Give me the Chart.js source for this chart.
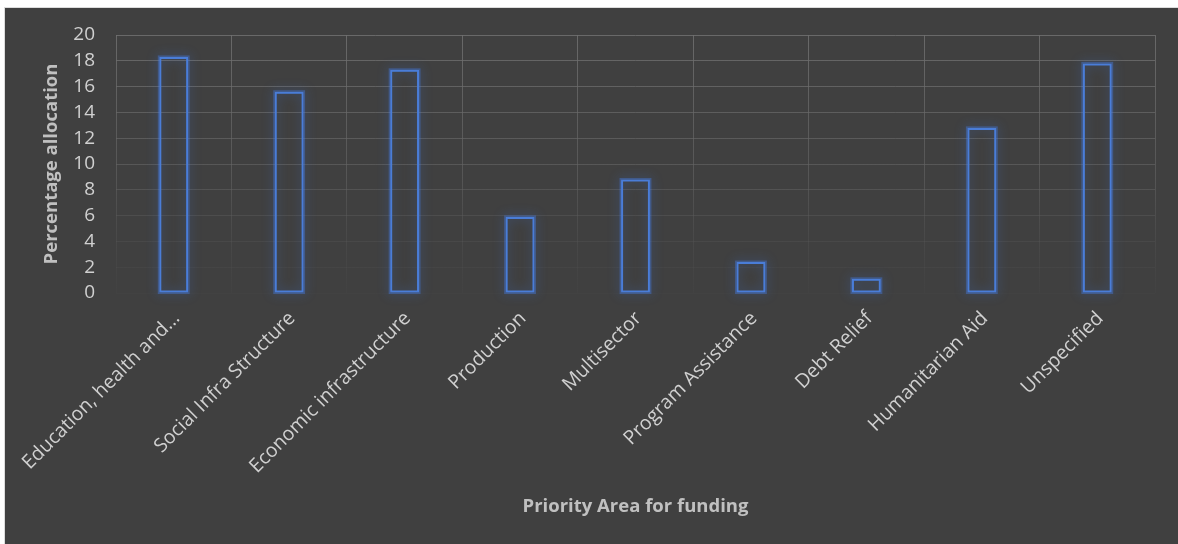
<!DOCTYPE html>
<html>
<head>
<meta charset="utf-8">
<script src="https://cdn.jsdelivr.net/npm/chart.js@4"></script>
<style>
  html, body { margin: 0; padding: 0; background: #ffffff; }
  #wrap { position: absolute; left: 0; top: 0; width: 1178px; height: 544px; }
</style>
</head>
<body>
<div id="wrap"><canvas id="chart" width="1178" height="544"></canvas></div>
<script>
// Share of funding by priority area (%)
const categories = [
  'Education, health and...',
  'Social Infra Structure',
  'Economic infrastructure',
  'Production',
  'Multisector',
  'Program Assistance',
  'Debt Relief',
  'Humanitarian Aid',
  'Unspecified'
];
const allocation = [18.3, 15.6, 17.3, 5.9, 8.8, 2.4, 1.1, 12.8, 17.8];
const yTicks = [0, 2, 4, 6, 8, 10, 12, 14, 16, 18, 20];

const FONT = '"Open Sans", "Noto Sans", sans-serif';
const BAR_BLUE = '#4a7dd8';

// Dark panel behind the chart, inset from the top and left edges
const panel = {
  id: 'panel',
  beforeDraw(chart) {
    const ctx = chart.ctx;
    ctx.save();
    ctx.fillStyle = '#ffffff';
    ctx.fillRect(0, 0, chart.width, chart.height);
    ctx.fillStyle = '#dcdcdc';
    ctx.fillRect(4, 7, chart.width - 4, chart.height - 7);
    ctx.fillStyle = '#404040';
    ctx.fillRect(5, 8, chart.width - 5, chart.height - 8);
    ctx.restore();
  }
};

// Soft blue glow around each bar outline
const glow = {
  id: 'glow',
  beforeDatasetsDraw(chart) {
    const ctx = chart.ctx;
    const meta = chart.getDatasetMeta(0);
    ctx.save();
    ctx.strokeStyle = 'rgba(70,125,230,0.4)';
    ctx.lineWidth = 3;
    ctx.shadowColor = 'rgba(60,120,235,0.95)';
    ctx.shadowBlur = 11;
    meta.data.forEach(bar => {
      const { x, y, base, width } = bar.getProps(['x', 'y', 'base', 'width'], true);
      ctx.strokeRect(x - width / 2, Math.min(y, base), width, Math.abs(base - y));
    });
    ctx.restore();
  }
};

// Grid lines brighter near the top, fading toward the baseline
function gridColor(context) {
  const chart = context.chart;
  const area = chart.chartArea;
  if (!area) return 'rgba(110,110,110,0.6)';
  const g = chart.ctx.createLinearGradient(0, area.top, 0, area.bottom);
  g.addColorStop(0, 'rgba(112,112,112,0.85)');
  g.addColorStop(0.55, 'rgba(100,100,100,0.6)');
  g.addColorStop(1, 'rgba(80,80,80,0.12)');
  return g;
}

new Chart(document.getElementById('chart'), {
  type: 'bar',
  data: {
    labels: categories,
    datasets: [{
      data: allocation,
      backgroundColor: 'rgba(0,0,0,0)',
      borderColor: BAR_BLUE,
      borderWidth: 2,
      borderSkipped: false,
      categoryPercentage: 1,
      barPercentage: 0.25
    }]
  },
  options: {
    responsive: false,
    animation: false,
    devicePixelRatio: 1,
    layout: { padding: { top: 35, right: 23, left: 0, bottom: 22 } },
    plugins: {
      legend: { display: false },
      tooltip: { enabled: false }
    },
    scales: {
      x: {
        grid: { color: gridColor, lineWidth: 1, drawTicks: false, offset: true },
        border: { display: false },
        ticks: {
          color: '#d0d0d0',
          font: { family: FONT, size: 19.5 },
          autoSkip: false,
          maxRotation: 45,
          minRotation: 45,
          padding: 14,
          labelOffset: 3
        },
        title: {
          display: true,
          text: 'Priority Area for funding',
          color: '#c0c0c0',
          font: { family: FONT, size: 18.5, weight: 'bold' },
          padding: { top: 4, bottom: 4 }
        },
        afterFit(scale) { scale.height = 229; }
      },
      y: {
        min: 0,
        max: 20,
        afterBuildTicks(scale) { scale.ticks = yTicks.map(v => ({ value: v })); },
        grid: { color: gridColor, lineWidth: 1, drawTicks: false },
        border: { display: false },
        ticks: {
          color: '#d0d0d0',
          font: { family: FONT, size: 19 },
          padding: 21
        },
        title: {
          display: true,
          text: 'Percentage allocation',
          color: '#c0c0c0',
          font: { family: FONT, size: 18.5, weight: 'bold' },
          padding: { top: 41, bottom: 4 }
        },
        afterFit(scale) { scale.width = 116; }
      }
    }
  },
  plugins: [panel, glow]
});
</script>
</body>
</html>
